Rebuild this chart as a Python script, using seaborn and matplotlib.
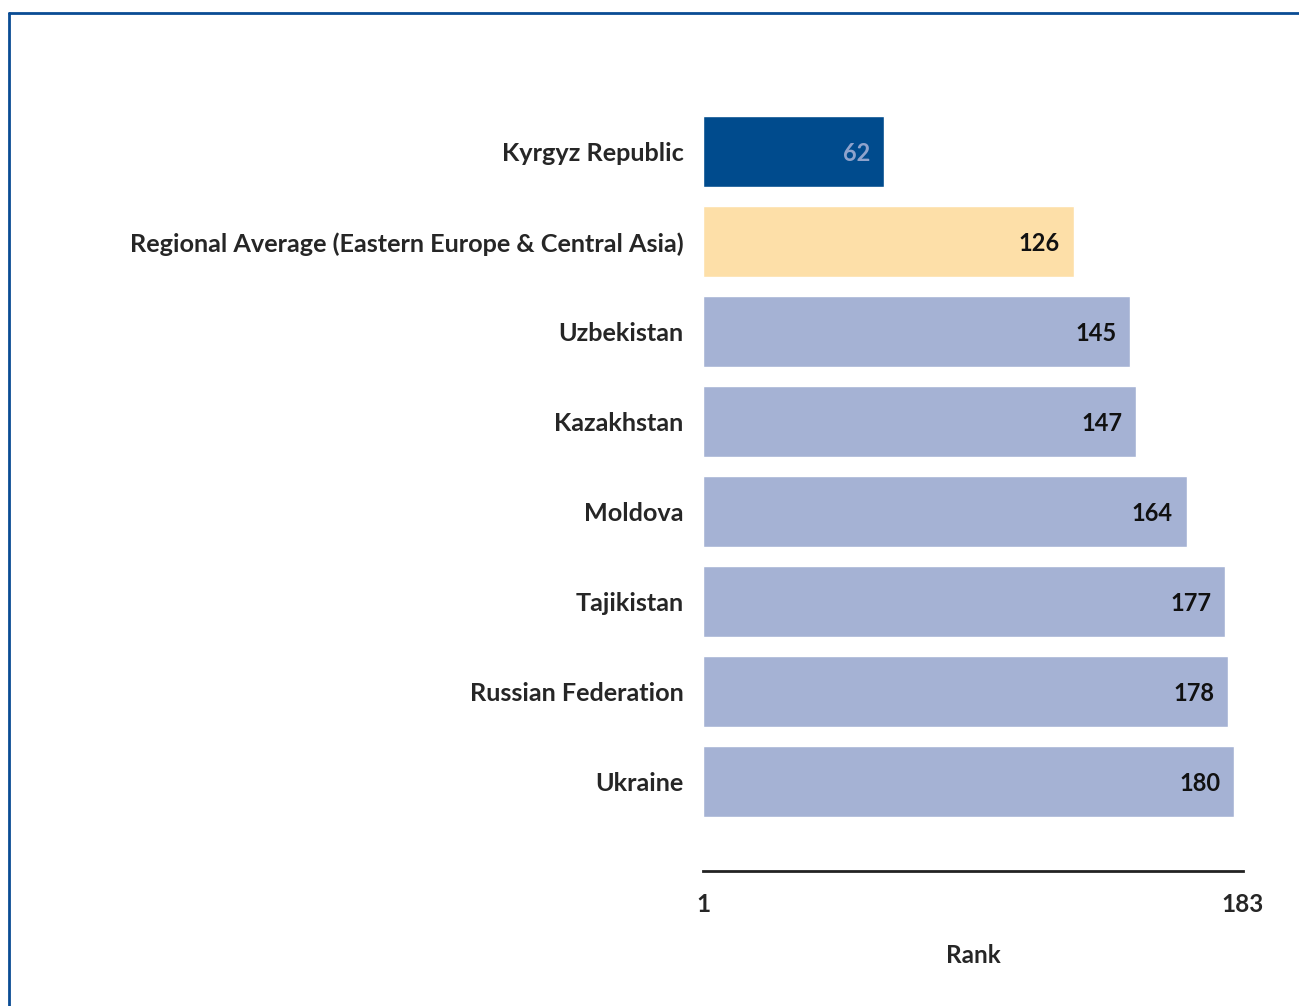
"""
Doing-business style rank comparison: Kyrgyz Republic vs. neighbours.
"""

import matplotlib
matplotlib.use('Agg')
import matplotlib.pyplot as plt
import pandas as pd
import seaborn as sns
from matplotlib.lines import Line2D

countries = [
    'Kyrgyz Republic',
    'Regional Average (Eastern Europe & Central Asia)',
    'Uzbekistan',
    'Kazakhstan',
    'Moldova',
    'Tajikistan',
    'Russian Federation',
    'Ukraine',
]
ranks = [62, 126, 145, 147, 164, 177, 178, 180]
bar_colors = ['#004B8D', '#FDDFA8'] + ['#A5B2D4'] * 6
value_colors = ['#8FA3CC'] + ['#111111'] * 7

rank_min, rank_max = 1, 183

df = pd.DataFrame({'country': countries, 'rank': ranks})

sns.set_theme(style='white')
plt.rcParams['font.family'] = ['Lato', 'DejaVu Sans']
plt.rcParams['font.weight'] = 'bold'

fig = plt.figure(figsize=(12.99, 10.06), dpi=100)
ax = fig.add_axes([703 / 1299, 1 - 871 / 1006, 540 / 1299, 809 / 1006])

sns.barplot(
    data=df, x='rank', y='country', hue='country',
    palette=bar_colors, width=0.79, orient='h',
    legend=False, ax=ax, saturation=1,
)
# bars start at rank 1, not 0
for patch in ax.patches:
    patch.set_x(rank_min)
    patch.set_width(patch.get_width() - rank_min)

ax.set_xlim(rank_min, rank_max)
ax.set_ylim(len(countries), -1)

for i, (r, c) in enumerate(zip(ranks, value_colors)):
    ax.annotate(str(r), xy=(r, i), xytext=(-10, 0), textcoords='offset points',
                ha='right', va='center_baseline', fontsize=17, fontweight='bold', color=c)

ax.set_xticks([rank_min, rank_max])
ax.set_xticklabels(['1', '183'], fontsize=17.5, fontweight='bold')
ax.tick_params(axis='x', length=0, pad=16)
ax.tick_params(axis='y', length=0, pad=14, labelsize=18.2)
for lbl in ax.get_yticklabels():
    lbl.set_fontweight('bold')
ax.set_ylabel('')
ax.set_xlabel('Rank', fontsize=17.5, fontweight='bold', labelpad=20)

for side in ['top', 'right', 'left']:
    ax.spines[side].set_visible(False)
ax.spines['bottom'].set_color('#222222')
ax.spines['bottom'].set_linewidth(2)

# outer blue frame (only the left and top edges show in the crop)
fig.add_artist(Line2D([9 / 1299, 9 / 1299], [0, 1 - 13 / 1006],
                      color='#0A4C94', linewidth=2))
fig.add_artist(Line2D([9 / 1299, 1], [1 - 13 / 1006, 1 - 13 / 1006],
                      color='#0A4C94', linewidth=2))

fig.savefig('out.png', dpi=100, facecolor='white')
